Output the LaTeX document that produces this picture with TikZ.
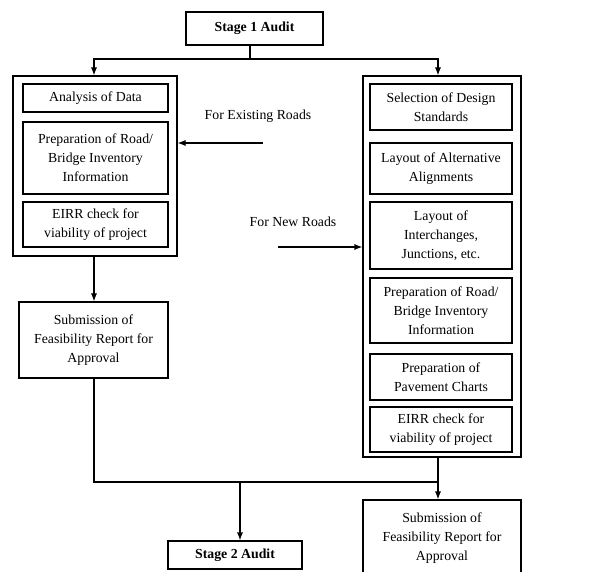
\documentclass[tikz,border=0pt]{standalone}
\usepackage{fontspec}
\setmainfont{Liberation Serif}
\usepackage{tikz}
\usetikzlibrary{arrows.meta, calc}

\tikzset{
    box/.style={draw, line width=1.1pt, align=center, inner sep=0pt,
        font=\fontsize{13.8}{19}\selectfont},
    lbl/.style={font=\fontsize{13.8}{19}\selectfont},
    conn/.style={line width=1.1pt},
    arr/.style={conn, -{Latex[length=8pt, width=6pt]}},
}

\begin{document}
\begin{tikzpicture}[x=1pt, y=-1pt]
    \useasboundingbox (0,0) rectangle (614,572);

    \node[box, minimum width=137pt, minimum height=33pt] (stage1) at (254.5, 28.5) {\textbf{Stage 1 Audit}};

    % the two outer frames
    \node[box, minimum width=164pt, minimum height=180pt] (exframe) at (95, 166) {};
    \node[box, minimum width=158pt, minimum height=381pt] (newframe) at (442, 266.5) {};

    % existing roads
    \node[box, minimum width=145pt, minimum height=28pt] (data) at (95.5, 98) {Analysis of Data};
    \node[box, minimum width=145pt, minimum height=72pt] (exinv) at (95.5, 158) {Preparation of Road/\\Bridge Inventory\\Information};
    \node[box, minimum width=145pt, minimum height=45pt] (exeirr) at (95.5, 224.5) {EIRR check for\\viability of project};

    % new roads
    \node[box, minimum width=142pt, minimum height=46pt] (design) at (441, 107) {Selection of Design\\Standards};
    \node[box, minimum width=142pt, minimum height=51pt] (align) at (441, 168.5) {Layout of Alternative\\Alignments};
    \node[box, minimum width=142pt, minimum height=67pt] (junct) at (441, 235.5) {Layout of\\Interchanges,\\Junctions, etc.};
    \node[box, minimum width=142pt, minimum height=65pt] (newinv) at (441, 310.5) {Preparation of Road/\\Bridge Inventory\\Information};
    \node[box, minimum width=142pt, minimum height=46pt] (pave) at (441, 377) {Preparation of\\Pavement Charts};
    \node[box, minimum width=142pt, minimum height=45pt] (neweirr) at (441, 429.5) {EIRR check for\\viability of project};

    \node[box, minimum width=149pt, minimum height=76pt] (exsub) at (93.5, 340) {Submission of\\Feasibility Report for\\Approval};
    \node[box, minimum width=158pt, minimum height=76pt] (newsub) at (442, 538) {Submission of\\Feasibility Report for\\Approval};

    \node[box, minimum width=134pt, minimum height=28pt] (stage2) at (235, 555) {\textbf{Stage 2 Audit}};

    \node[lbl] (exlbl) at (258, 116) {For Existing Roads};
    \node[lbl] (newlbl) at (293, 222) {For New Roads};

    \coordinate (split) at (250, 59);
    \coordinate (exin) at (263, 143);
    \coordinate (newin) at (278, 247);
    \coordinate (merge) at (240, 482);
    \coordinate (rjoin) at (438, 482);

    \draw[conn] (split |- stage1.south) -- (split);
    \draw[arr] (split) -| ([xshift=-1pt]exframe.north);
    \draw[arr] (split) -| ([xshift=-4pt]newframe.north);

    \draw[arr] (exin) -- (exin -| exframe.east);
    \draw[arr] (newin) -- (newin -| newframe.west);

    \draw[arr] ([xshift=-1pt]exframe.south) -- ([xshift=-1pt]exframe.south |- exsub.north);
    \draw[conn] ([xshift=0.5pt]exsub.south) |- (rjoin);
    \draw[arr] (rjoin |- newframe.south) -- (rjoin |- newsub.north);
    \draw[arr] (merge) -- (merge |- stage2.north);
\end{tikzpicture}
\end{document}
